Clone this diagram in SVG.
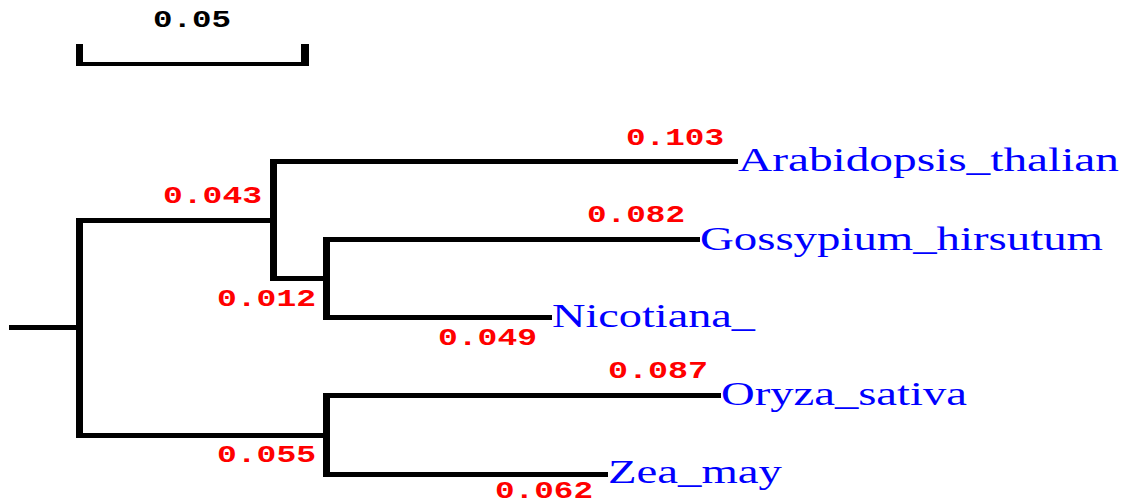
<svg xmlns="http://www.w3.org/2000/svg" width="1125" height="501" viewBox="0 0 1125 501">
<style>
.br{fill:#000}
.len{font-family:"Liberation Mono",monospace;font-weight:bold;font-size:23px;fill:#ff0000}
.sc{font-family:"Liberation Mono",monospace;font-weight:bold;font-size:23px;fill:#000}
.tax{font-family:"Liberation Serif",serif;font-size:33px;fill:#0000ff}
</style>
<rect width="1125" height="501" fill="#fff"/>
<g id="scale-bar">
<rect class="br" x="76" y="44" width="7" height="22"/>
<rect class="br" x="76" y="62" width="233" height="4"/>
<rect class="br" x="301" y="44" width="8" height="22"/>
<text class="sc" x="153" y="27" textLength="78" lengthAdjust="spacingAndGlyphs">0.05</text>
</g>
<g id="connectors">
<rect class="br" x="9" y="325" width="70" height="5"/>
<rect class="br" x="76" y="218" width="7" height="219"/>
<rect class="br" x="76" y="218" width="200" height="5"/>
<rect class="br" x="76" y="433" width="252" height="5"/>
<rect class="br" x="270" y="159" width="7" height="122"/>
<rect class="br" x="270" y="159" width="468" height="5"/>
<rect class="br" x="270" y="276" width="58" height="5"/>
<rect class="br" x="323" y="237" width="7" height="83"/>
<rect class="br" x="323" y="237" width="377" height="5"/>
<rect class="br" x="323" y="315" width="229" height="5"/>
<rect class="br" x="323" y="393" width="7" height="84"/>
<rect class="br" x="323" y="393" width="398" height="5"/>
<rect class="br" x="323" y="472" width="285" height="5"/>
</g>
<g id="branch-labels">
<text class="len" x="626" y="145" textLength="98" lengthAdjust="spacingAndGlyphs">0.103</text>
<text class="len" x="163" y="203" textLength="99" lengthAdjust="spacingAndGlyphs">0.043</text>
<text class="len" x="587" y="222" textLength="98" lengthAdjust="spacingAndGlyphs">0.082</text>
<text class="len" x="217" y="306" textLength="99" lengthAdjust="spacingAndGlyphs">0.012</text>
<text class="len" x="438" y="345" textLength="99" lengthAdjust="spacingAndGlyphs">0.049</text>
<text class="len" x="608" y="378" textLength="100" lengthAdjust="spacingAndGlyphs">0.087</text>
<text class="len" x="217" y="462" textLength="99" lengthAdjust="spacingAndGlyphs">0.055</text>
<text class="len" x="495" y="498" textLength="98" lengthAdjust="spacingAndGlyphs">0.062</text>
</g>
<g id="node-arabidopsis"><text class="tax" x="738" y="171" textLength="381" lengthAdjust="spacingAndGlyphs">Arabidopsis_thalian</text></g>
<g id="node-gossypium"><text class="tax" x="700" y="250" textLength="403" lengthAdjust="spacingAndGlyphs">Gossypium_hirsutum</text></g>
<g id="node-nicotiana"><text class="tax" x="552" y="327" textLength="203" lengthAdjust="spacingAndGlyphs">Nicotiana_</text></g>
<g id="node-oryza"><text class="tax" x="721" y="405" textLength="246" lengthAdjust="spacingAndGlyphs">Oryza_sativa</text></g>
<g id="node-zea"><text class="tax" x="608" y="483" textLength="174" lengthAdjust="spacingAndGlyphs">Zea_may</text></g>
</svg>
